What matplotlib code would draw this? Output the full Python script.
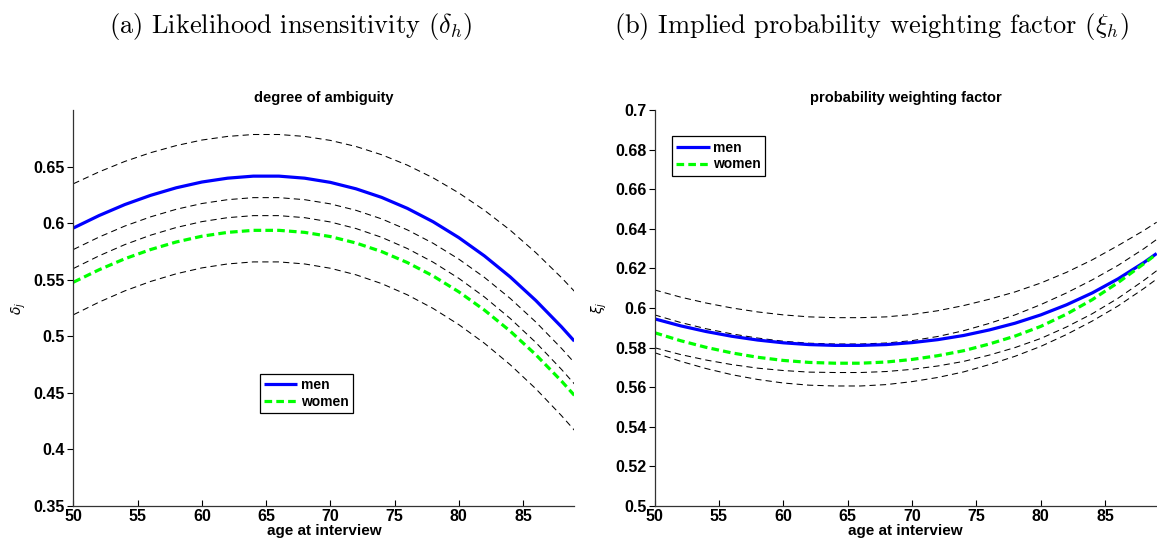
import matplotlib
matplotlib.use("Agg")
import matplotlib.pyplot as plt

plt.rcParams["font.family"] = ["Liberation Sans", "DejaVu Sans"]
plt.rcParams["lines.scale_dashes"] = False

ages = [50, 52, 54, 56, 58, 60, 62, 64, 66, 68, 70, 72, 74, 76, 78, 80, 82, 84, 86, 88, 89]

# (a) degree of ambiguity
amb_men = [0.5957, 0.6067, 0.6164, 0.6245, 0.6312, 0.6363, 0.6397, 0.6415, 0.6415, 0.6397, 0.6360,
           0.6303, 0.6227, 0.6130, 0.6012, 0.5872, 0.5710, 0.5525, 0.5316, 0.5083, 0.4957]
amb_women = [0.5478, 0.5588, 0.5685, 0.5766, 0.5833, 0.5884, 0.5918, 0.5936, 0.5936, 0.5918, 0.5881,
             0.5824, 0.5748, 0.5651, 0.5533, 0.5393, 0.5231, 0.5046, 0.4837, 0.4604, 0.4478]
amb_ci = [
    [0.6348, 0.6453, 0.6545, 0.6622, 0.6685, 0.6734, 0.6766, 0.6783, 0.6783, 0.6766, 0.6731,
     0.6677, 0.6604, 0.6512, 0.6400, 0.6267, 0.6113, 0.5938, 0.5739, 0.5518, 0.5398],
    [0.5767, 0.5877, 0.5974, 0.6055, 0.6122, 0.6173, 0.6207, 0.6225, 0.6225, 0.6207, 0.6170,
     0.6113, 0.6037, 0.5940, 0.5822, 0.5682, 0.5520, 0.5335, 0.5126, 0.4893, 0.4767],
    [0.5599, 0.5711, 0.5810, 0.5893, 0.5961, 0.6013, 0.6048, 0.6066, 0.6066, 0.6048, 0.6010,
     0.5952, 0.5874, 0.5775, 0.5655, 0.5512, 0.5347, 0.5158, 0.4945, 0.4707, 0.4579],
    [0.5190, 0.5302, 0.5401, 0.5484, 0.5552, 0.5604, 0.5639, 0.5657, 0.5657, 0.5639, 0.5601,
     0.5543, 0.5465, 0.5366, 0.5246, 0.5103, 0.4938, 0.4749, 0.4536, 0.4298, 0.4170],
]

# (b) probability weighting factor
pw_men = [0.5945, 0.5910, 0.5881, 0.5857, 0.5838, 0.5824, 0.5815, 0.5811, 0.5811, 0.5815, 0.5825,
          0.5840, 0.5861, 0.5889, 0.5923, 0.5965, 0.6016, 0.6076, 0.6147, 0.6229, 0.6275]
pw_women = [0.5875, 0.5835, 0.5801, 0.5773, 0.5751, 0.5735, 0.5725, 0.5721, 0.5721, 0.5727, 0.5740,
            0.5759, 0.5784, 0.5818, 0.5858, 0.5907, 0.5969, 0.6042, 0.6128, 0.6223, 0.6273]
pw_ci = [
    [0.6091, 0.6055, 0.6025, 0.6000, 0.5980, 0.5965, 0.5955, 0.5951, 0.5951, 0.5955, 0.5967,
     0.5986, 0.6012, 0.6044, 0.6081, 0.6126, 0.6180, 0.6243, 0.6315, 0.6391, 0.6433],
    [0.5965, 0.5927, 0.5895, 0.5869, 0.5848, 0.5832, 0.5822, 0.5818, 0.5818, 0.5823, 0.5835,
     0.5856, 0.5885, 0.5922, 0.5965, 0.6017, 0.6076, 0.6142, 0.6215, 0.6299, 0.6346],
    [0.5799, 0.5765, 0.5737, 0.5714, 0.5696, 0.5684, 0.5676, 0.5674, 0.5674, 0.5679, 0.5690,
     0.5707, 0.5730, 0.5762, 0.5800, 0.5846, 0.5904, 0.5971, 0.6049, 0.6139, 0.6188],
    [0.5774, 0.5731, 0.5694, 0.5663, 0.5639, 0.5621, 0.5610, 0.5606, 0.5606, 0.5613, 0.5628,
     0.5649, 0.5677, 0.5714, 0.5756, 0.5806, 0.5866, 0.5934, 0.6010, 0.6098, 0.6146],
]

x_ticks = [50, 55, 60, 65, 70, 75, 80, 85]
amb_ticks = [0.35, 0.4, 0.45, 0.5, 0.55, 0.6, 0.65]
pw_ticks = [0.5, 0.52, 0.54, 0.56, 0.58, 0.6, 0.62, 0.64, 0.66, 0.68, 0.7]


def tick_str(v):
    return ("%.2f" % v).rstrip("0")


def draw_panel(ax, men, women, ci, yticks, ylim, title, ylabel, legend_anchor):
    for band in ci:
        ax.plot(ages, band, color="black", lw=0.75, dashes=(4.5, 3))
    ax.plot(ages, men, color="#0000ff", lw=2.3, label="men", solid_capstyle="butt")
    ax.plot(ages, women, color="#00ff00", lw=2.3, dashes=(5.5, 3), label="women",
            dash_capstyle="butt")
    ax.set_xlim(50, 89)
    ax.set_ylim(*ylim)
    ax.set_xticks(x_ticks)
    ax.set_xticklabels([str(t) for t in x_ticks], fontweight="bold", fontsize=11.5)
    ax.set_yticks(yticks)
    ax.set_yticklabels([tick_str(t) for t in yticks], fontweight="bold", fontsize=11.5)
    ax.tick_params(axis="x", direction="in", length=4, width=0.8, pad=2)
    ax.tick_params(axis="y", direction="out", length=4, width=0.8, pad=2)
    for side in ("top", "right"):
        ax.spines[side].set_visible(False)
    for side in ("left", "bottom"):
        ax.spines[side].set_linewidth(0.9)
        ax.spines[side].set_color("#333333")
    ax.set_title(title, fontweight="bold", fontsize=10.5, pad=6)
    ax.set_xlabel("age at interview", fontweight="bold", fontsize=11, labelpad=0)
    ax.set_ylabel(ylabel, fontsize=10, math_fontfamily="dejavusans", labelpad=4)
    leg = ax.legend(loc="upper left", bbox_to_anchor=legend_anchor, borderaxespad=0,
                    prop={"weight": "bold", "size": 10}, frameon=True, fancybox=False,
                    edgecolor="black", framealpha=1, handlelength=2.4, handletextpad=0.25,
                    borderpad=0.3, labelspacing=0.2)
    leg.get_frame().set_linewidth(0.9)


fig = plt.figure(figsize=(11.57, 5.47), dpi=100)
ax1 = fig.add_axes([0.0635, 0.075, 0.4329, 0.724])
ax2 = fig.add_axes([0.5658, 0.075, 0.4339, 0.724])

draw_panel(ax1, amb_men, amb_women, amb_ci, amb_ticks, (0.35, 0.70),
           "degree of ambiguity", r"$\delta_j$", (0.372, 0.333))
draw_panel(ax2, pw_men, pw_women, pw_ci, pw_ticks, (0.5, 0.7),
           "probability weighting factor", r"$\xi_j$", (0.035, 0.933))

fig.text(290 / 1157, 1 - 26 / 547, r"(a) Likelihood insensitivity ($\delta_h$)",
         ha="center", va="center", fontsize=19, family="cmr10", math_fontfamily="cm")
fig.text(871 / 1157, 1 - 26 / 547, r"(b) Implied probability weighting factor ($\xi_h$)",
         ha="center", va="center", fontsize=19, family="cmr10", math_fontfamily="cm")

fig.savefig("out.png", dpi=100)
